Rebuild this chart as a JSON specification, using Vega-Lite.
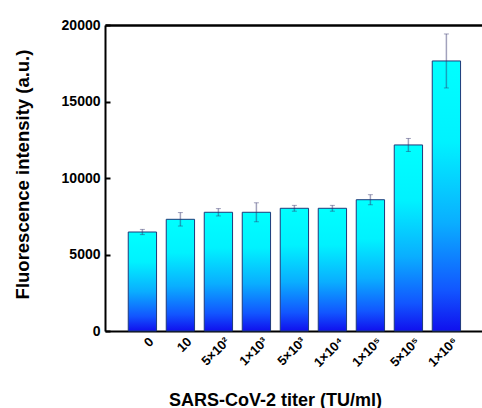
{
  "$schema": "https://vega.github.io/schema/vega-lite/v6.json",
  "autosize": {"type": "none"},
  "padding": {"left": 105, "top": 25, "right": 0, "bottom": 77},
  "width": 377,
  "height": 306,
  "background": "white",
  "config": {
    "view": {"stroke": null},
    "font": "Liberation Sans",
    "axis": {"grid": false, "domainColor": "black", "domainWidth": 2, "tickColor": "black", "tickWidth": 2, "labelFont": "Liberation Sans", "titleFont": "Liberation Sans", "labelFontWeight": "bold", "titleFontWeight": "bold", "labelColor": "black", "titleColor": "black"}
  },
  "data": {
    "values": [
      {"titer": "0", "mean": 6470, "err": 170},
      {"titer": "10", "mean": 7300, "err": 440},
      {"titer": "5×10²", "mean": 7760, "err": 240},
      {"titer": "1×10³", "mean": 7760, "err": 620},
      {"titer": "5×10³", "mean": 8020, "err": 190},
      {"titer": "1×10⁴", "mean": 8020, "err": 190},
      {"titer": "1×10⁵", "mean": 8580, "err": 330},
      {"titer": "5×10⁵", "mean": 12160, "err": 425},
      {"titer": "1×10⁶", "mean": 17650, "err": 1765}
    ]
  },
  "resolve": {"axis": {"x": "independent"}},
  "layer": [
    {
      "mark": {
        "type": "bar",
        "stroke": "#1F3A7A",
        "strokeWidth": 1,
        "color": {
          "gradient": "linear",
          "x1": 0, "y1": 0, "x2": 0, "y2": 1,
          "stops": [
            {"offset": 0, "color": "#00FFFF"},
            {"offset": 0.3, "color": "#00F2FF"},
            {"offset": 0.6, "color": "#0AAEFF"},
            {"offset": 0.85, "color": "#1256FF"},
            {"offset": 1, "color": "#1010EE"}
          ]
        }
      },
      "encoding": {
        "x": {
          "field": "titer", "type": "nominal", "sort": null,
          "scale": {"type": "band", "paddingInner": 0.255, "paddingOuter": 0.588, "align": 0.52},
          "axis": {"title": "SARS-CoV-2 titer (TU/ml)", "titleFontSize": 18, "titleX": 170, "titleY": 60, "titleAnchor": "middle", "labelAngle": -45, "labelFontSize": 13, "labelPadding": 8, "labelOffset": 5, "tickSize": -4}
        },
        "y": {
          "field": "mean", "type": "quantitative",
          "title": "Fluorescence intensity (a.u.)",
          "scale": {"domain": [0, 20000], "nice": false},
          "axis": {
            "title": "Fluorescence intensity (a.u.)",
            "titleFontSize": 18.5,
            "titleX": -83,
            "titleY": 149,
            "titleAnchor": "middle",
            "titleBaseline": "middle",
            "values": [0, 2500, 5000, 7500, 10000, 12500, 15000, 17500, 20000],
            "labelExpr": "datum.value % 5000 === 0 ? datum.value : ''",
            "labelFontSize": 14,
            "labelPadding": 10,
            "tickSize": {"condition": {"test": "datum.value % 5000 === 0", "value": -5}, "value": -3}
          }
        }
      }
    },
    {
      "mark": {"type": "errorbar", "ticks": {"size": 5, "color": "#30306A", "opacity": 0.45, "strokeWidth": 1.5}, "rule": {"color": "#30306A", "opacity": 0.45, "strokeWidth": 1.5}},
      "encoding": {
        "x": {
          "field": "titer", "type": "nominal", "sort": null,
          "scale": {"type": "band", "paddingInner": 0.255, "paddingOuter": 0.588, "align": 0.52},
          "axis": {"orient": "top", "labels": false, "ticks": false, "title": null, "domainWidth": 2.5}
        },
        "y": {"field": "mean", "type": "quantitative", "title": "Fluorescence intensity (a.u.)"},
        "yError": {"field": "err"}
      }
    }
  ]
}
